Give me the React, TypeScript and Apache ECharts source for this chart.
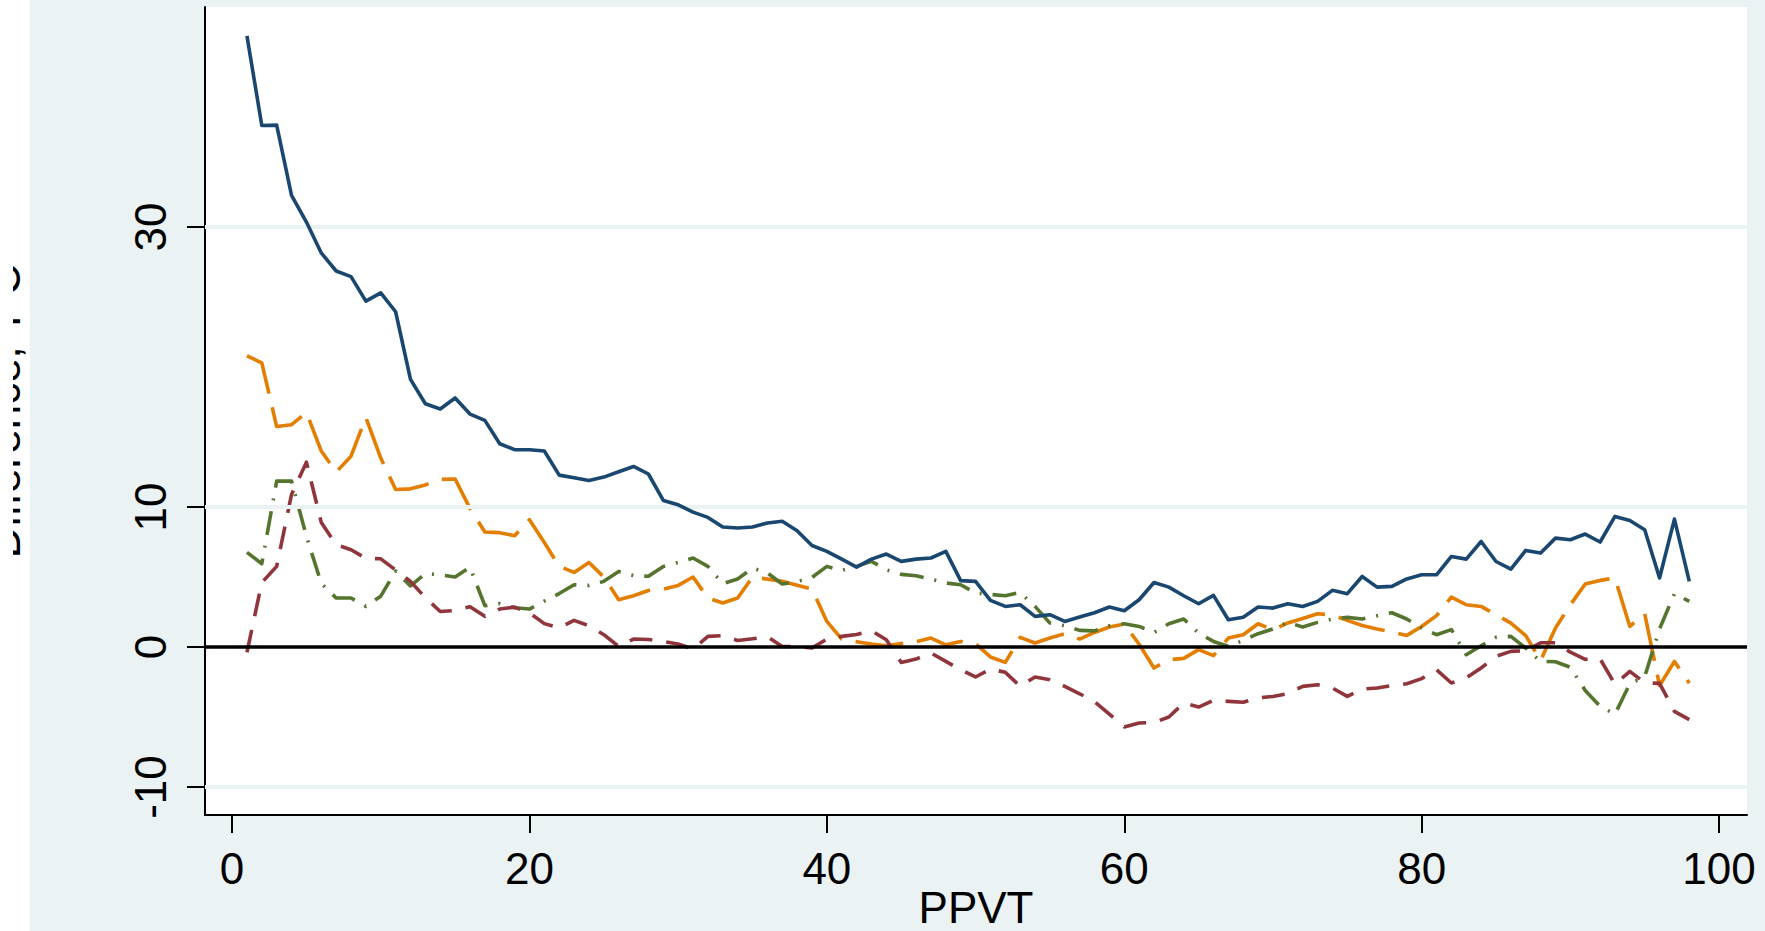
import React, { useEffect, useRef } from "react";
import * as echarts from "echarts";

// PPVT score positions (x) for every series
const ppvtScores = [
  1, 2, 3, 4, 5, 6, 7, 8, 9, 10, 11, 12, 13, 14, 15, 16, 17, 18, 19, 20,
  21, 22, 23, 24, 25, 26, 27, 28, 29, 30, 31, 32, 33, 34, 35, 36, 37, 38, 39, 40,
  41, 42, 43, 44, 45, 46, 47, 48, 49, 50, 51, 52, 53, 54, 55, 56, 57, 58, 59, 60,
  61, 62, 63, 64, 65, 66, 67, 68, 69, 70, 71, 72, 73, 74, 75, 76, 77, 78, 79, 80,
  81, 82, 83, 84, 85, 86, 87, 88, 89, 90, 91, 92, 93, 94, 95, 96, 97, 98,
];

// Difference series (solid navy)
const navySeries = [
  43.66, 37.25, 37.28, 32.27, 30.36, 28.15, 26.86, 26.46, 24.71, 25.3,
  23.95, 19.12, 17.38, 17.0, 17.79, 16.64, 16.19, 14.52, 14.1, 14.09,
  14.0, 12.28, 12.09, 11.9, 12.14, 12.52, 12.9, 12.36, 10.47, 10.16,
  9.64, 9.26, 8.57, 8.5, 8.57, 8.86, 8.98, 8.31, 7.25, 6.83,
  6.28, 5.71, 6.28, 6.64, 6.12, 6.28, 6.36, 6.83, 4.74, 4.69,
  3.33, 2.9, 3.02, 2.19, 2.31, 1.83, 2.14, 2.45, 2.86, 2.59,
  3.38, 4.61, 4.28, 3.66, 3.09, 3.69, 1.95, 2.12, 2.86, 2.78,
  3.09, 2.9, 3.26, 4.05, 3.81, 5.04, 4.28, 4.33, 4.86, 5.16,
  5.16, 6.47, 6.28, 7.54, 6.11, 5.57, 6.9, 6.71, 7.78, 7.66,
  8.07, 7.5, 9.33, 9.04, 8.38, 4.93, 9.14, 4.69,
];

// Difference series (long-dashed orange)
const orangeSeries = [
  20.8, 20.3, 15.75, 15.88, 16.75, 14.0, 12.5, 13.63, 16.4, 13.5,
  11.25, 11.3, 11.58, 11.97, 12.0, 9.9, 8.22, 8.17, 7.95, 9.09,
  7.46, 5.76, 5.33, 6.04, 5.0, 3.38, 3.66, 4.04, 4.14, 4.4,
  5.0, 3.5, 3.14, 3.5, 5.0, 4.85, 4.7, 4.42, 4.14, 1.83,
  0.57, 0.38, 0.21, 0.09, 0.24, 0.38, 0.64, 0.16, 0.4, 0.24,
  -0.71, -1.1, 0.69, 0.29, 0.64, 0.95, 0.57, 1.04, 1.43, 1.64,
  0.2, -1.5, -0.91, -0.81, -0.19, -0.62, 0.64, 0.88, 1.66, 1.24,
  1.72, 2.04, 2.38, 2.28, 1.9, 1.54, 1.29, 1.07, 0.83, 1.47,
  2.24, 3.57, 3.02, 2.9, 2.31, 1.71, 0.81, -0.96, 1.36, 3.02,
  4.5, 4.76, 4.93, 1.47, 2.38, -2.75, -1.03, -2.58,
];

// Difference series (long-dash-dot green)
const greenSeries = [
  6.76, 5.95, 11.85, 11.85, 7.92, 4.55, 3.5, 3.5, 2.9, 3.63,
  5.42, 4.36, 5.25, 5.16, 5.0, 5.7, 2.95, 3.1, 2.8, 2.71,
  3.28, 3.82, 4.45, 4.4, 4.69, 5.4, 5.1, 5.05, 5.76, 6.04,
  6.36, 5.76, 4.52, 4.86, 5.64, 5.29, 4.5, 4.67, 4.97, 5.76,
  5.47, 5.76, 6.12, 5.52, 5.19, 5.09, 4.86, 4.57, 4.45, 3.86,
  3.76, 3.66, 3.9, 2.9, 1.71, 1.52, 1.19, 1.15, 1.52, 1.66,
  1.47, 1.04, 1.66, 2.0, 1.0, 0.4, 0.05, 0.47, 0.95, 1.29,
  1.76, 1.43, 1.76, 2.0, 2.12, 2.0, 2.24, 2.45, 2.0, 1.36,
  0.88, 1.24, -0.55, 0.09, 0.69, 0.76, -0.07, -1.03, -1.05, -1.45,
  -3.1, -4.24, -4.8, -2.63, -2.12, 1.3, 3.81, 3.26,
];

// Difference series (dashed maroon)
const maroonSeries = [
  -0.38, 4.6, 5.76, 10.9, 13.2, 8.9, 7.31, 6.95, 6.33, 6.3,
  5.5, 4.69, 3.52, 2.54, 2.61, 2.88, 2.19, 2.71, 2.85, 2.43,
  1.67, 1.36, 1.9, 1.52, 0.88, 0.04, 0.57, 0.54, 0.4, 0.21,
  -0.14, 0.76, 0.81, 0.47, 0.59, 0.74, 0.04, 0.04, -0.07, 0.57,
  0.76, 0.9, 1.16, 0.52, -1.1, -0.86, -0.43, -1.03, -1.62, -2.14,
  -1.57, -1.81, -2.81, -2.14, -2.34, -2.81, -3.34, -3.9, -4.8, -5.71,
  -5.43, -5.39, -5.0, -4.0, -4.29, -3.81, -3.88, -3.95, -3.64, -3.53,
  -3.34, -2.81, -2.69, -2.93, -3.53, -3.0, -2.93, -2.76, -2.62, -2.26,
  -1.62, -2.57, -2.21, -1.5, -0.67, -0.31, -0.26, 0.3, 0.31, -0.37,
  -0.88, -0.85, -2.65, -1.74, -2.55, -2.6, -4.6, -5.19,
];

const xTicks = [0, 20, 40, 60, 80, 100];
const yTicks = [-10, 0, 10, 30];
const gridValues = [-10, 10, 30];

const FONT = "'Liberation Sans', Arial, Helvetica, sans-serif";
const BG = "#eaf2f3";

const pairs = (ys: number[]) => ys.map((y, i) => [ppvtScores[i], y]);

export default function App() {
  const ref = useRef<HTMLDivElement>(null);

  useEffect(() => {
    document.body.style.margin = "0";
    if (!ref.current) return;
    const chart = echarts.init(ref.current, null, { renderer: "svg" });

    const lineSeries = (
      name: string,
      data: number[],
      color: string,
      dash: number[] | "solid",
      z: number
    ) => ({
      name,
      type: "line",
      data: pairs(data),
      showSymbol: false,
      symbol: "none",
      z,
      clip: true,
      lineStyle: { color, width: 3.6, type: dash, cap: "butt", join: "round" },
      emphasis: { disabled: true },
    });

    chart.setOption({
      animation: false,
      backgroundColor: "transparent",
      grid: {
        left: 192,
        right: 18,
        top: 7,
        bottom: 116,
        show: true,
        backgroundColor: "#ffffff",
        borderWidth: 0,
        containLabel: false,
        outerBoundsMode: "none",
      },
      xAxis: {
        type: "value",
        min: -1.82,
        max: 101.88,
        name: "PPVT",
        nameLocation: "middle",
        nameGap: 70,
        nameMoveOverlap: false,
        nameTextStyle: { fontSize: 44, color: "#000", fontFamily: FONT },
        axisLine: { show: true, onZero: false, lineStyle: { color: "#000", width: 2 } },
        axisTick: {
          show: true,
          length: 18,
          customValues: xTicks,
          lineStyle: { color: "#000", width: 2 },
        },
        axisLabel: {
          customValues: xTicks,
          margin: 31,
          fontSize: 44,
          color: "#000",
          fontFamily: FONT,
        },
        splitLine: { show: false },
      },
      yAxis: {
        type: "value",
        min: -12,
        max: 45.72,
        name: "Difference, T-C",
        nameLocation: "middle",
        nameRotate: 90,
        nameGap: 179,
        nameMoveOverlap: false,
        nameTextStyle: { fontSize: 44, color: "#000", fontFamily: FONT },
        axisLine: { show: true, onZero: false, lineStyle: { color: "#000", width: 2 } },
        axisTick: {
          show: true,
          length: 18,
          customValues: yTicks,
          lineStyle: { color: "#000", width: 2 },
        },
        axisLabel: {
          customValues: yTicks,
          rotate: 90,
          margin: 33,
          fontSize: 44,
          color: "#000",
          fontFamily: FONT,
        },
        splitLine: { show: false },
      },
      series: [
        {
          name: "reference lines",
          type: "line",
          data: [],
          z: 1,
          silent: true,
          markLine: {
            silent: true,
            symbol: ["none", "none"],
            label: { show: false },
            emphasis: { disabled: true },
            animation: false,
            data: [
              ...gridValues.map((v) => ({
                yAxis: v,
                lineStyle: { color: BG, width: 4, type: "solid" },
              })),
              { yAxis: 0, lineStyle: { color: "#000", width: 3.6, type: "solid" } },
            ],
          },
        },
        lineSeries("navy", navySeries, "#1a476f", "solid", 5),
        lineSeries("maroon", maroonSeries, "#90353b", [23, 14], 4),
        lineSeries("green", greenSeries, "#55752f", [24, 11, 2, 11], 3),
        lineSeries("orange", orangeSeries, "#e37e00", [48, 14], 2),
      ],
    });

    return () => chart.dispose();
  }, []);

  return (
    <div
      style={{
        position: "relative",
        width: 1765,
        height: 931,
        background: "#ffffff",
        overflow: "hidden",
      }}
    >
      <div
        ref={ref}
        style={{
          position: "absolute",
          left: 13,
          top: 0,
          width: 1752,
          height: 931,
          overflow: "hidden",
          background: `linear-gradient(to right, #ffffff 0px, #ffffff 17px, ${BG} 17px, ${BG} 100%)`,
        }}
      />
    </div>
  );
}
